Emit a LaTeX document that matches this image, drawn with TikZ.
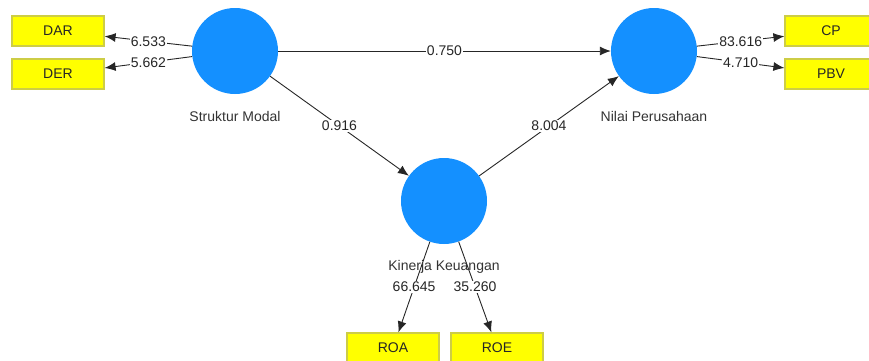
\documentclass[tikz,border=0pt]{standalone}
\usepackage{fontspec}
\setmainfont{Liberation Sans}
\usetikzlibrary{arrows.meta}
\definecolor{lvblue}{RGB}{20,144,255}
\definecolor{mvyellow}{RGB}{255,255,0}
\definecolor{mvborder}{RGB}{205,205,70}
\begin{document}
\begin{tikzpicture}[x=1pt,y=-1pt,
    font=\fontsize{14}{16}\selectfont,
    latent/.style={circle,fill=lvblue,minimum size=86pt,inner sep=0pt},
    indicator/.style={draw=mvborder,line width=1.2pt,fill=mvyellow,minimum width=92pt,minimum height=30pt,inner sep=0pt,text=black!85},
    pathline/.style={-{Latex[length=11pt,width=9pt]},line width=0.9pt,black!85},
    coef/.style={fill=white,inner sep=1pt,text=black!85},
    lvname/.style={text=black!80}]
  \useasboundingbox (0,0) rectangle (869,360);
  % latent variables
  \node[latent] (sm) at (235,51) {};
  \node[latent] (np) at (654,51) {};
  \node[latent] (kk) at (444,201) {};
  % indicators
  \node[indicator] (dar) at (58,31) {DAR};
  \node[indicator] (der) at (58,74) {DER};
  \node[indicator] (cp) at (831,31) {CP};
  \node[indicator] (pbv) at (831,74) {PBV};
  \node[indicator] (roa) at (393,348) {ROA};
  \node[indicator] (roe) at (497,348) {ROE};
  % outer model
  \foreach \from/\to/\val in {sm/dar/6.533, sm/der/5.662, np/cp/83.616, np/pbv/4.710, kk/roa/66.645, kk/roe/35.260} {
      \draw[pathline] (\from) -- node[coef] {\val} (\to);
  }
  % inner model
  \foreach \from/\to/\val in {sm/np/0.750, sm/kk/0.916, kk/np/8.004} {
      \draw[pathline] (\from) -- node[coef] {\val} (\to);
  }
  % names
  \node[lvname] (smname) at (235,116) {Struktur Modal};
  \node[lvname] (npname) at (654,116) {Nilai Perusahaan};
  \node[lvname] (kkname) at (444,267) {Kinerja Keuangan};
\end{tikzpicture}
\end{document}
